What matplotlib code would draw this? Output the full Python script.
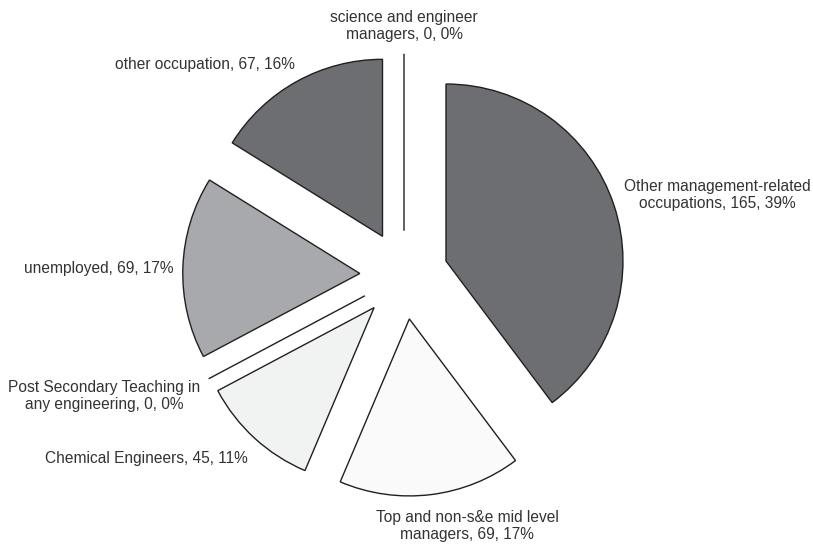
import numpy as np
import matplotlib.pyplot as plt

plt.rcParams['font.family'] = ['Liberation Sans', 'DejaVu Sans']

# slices, clockwise from 12 o'clock
names = ['science and engineer\nmanagers',
         'Other management-related\noccupations',
         'Top and non-s&e mid level\nmanagers',
         'Chemical Engineers',
         'Post Secondary Teaching in\nany engineering',
         'unemployed',
         'other occupation']
counts = [0, 165, 69, 45, 0, 69, 67]
pcts = [0, 39, 17, 11, 0, 17, 16]
colors = ['#6d6e71', '#6d6e71', '#fafafa', '#f1f2f2', '#a7a9ac', '#a7a9ac', '#6d6e71']

# label anchor points in pixels (x from left, y from top)
label_px = [(404, 26), (717, 195), (467, 526), (146, 459),
            (104, 396), (99, 268), (205, 65)]

W, H = 813, 544
cx, cy, r = 404, 275, 177   # pie centre and radius in pixels

fig = plt.figure(figsize=(W / 100, H / 100), dpi=100)
ax = fig.add_axes([0, 0, 1, 1])

ax.pie(counts, colors=colors, startangle=90, counterclock=False,
       explode=[0.25] * len(counts), radius=1,
       wedgeprops=dict(edgecolor='#231f20', linewidth=1.0))

ax.set_xlim(-cx / r, (W - cx) / r)
ax.set_ylim(-(H - cy) / r, cy / r)
ax.set_aspect('equal')
ax.axis('off')

for name, n, p, (px, py) in zip(names, counts, pcts, label_px):
    ax.text((px - cx) / r, (cy - py) / r, '%s, %d, %d%%' % (name, n, p),
            ha='center', va='center', fontsize=11.2, color='#333333',
            linespacing=1.2)

fig.savefig('out.png', dpi=100)
